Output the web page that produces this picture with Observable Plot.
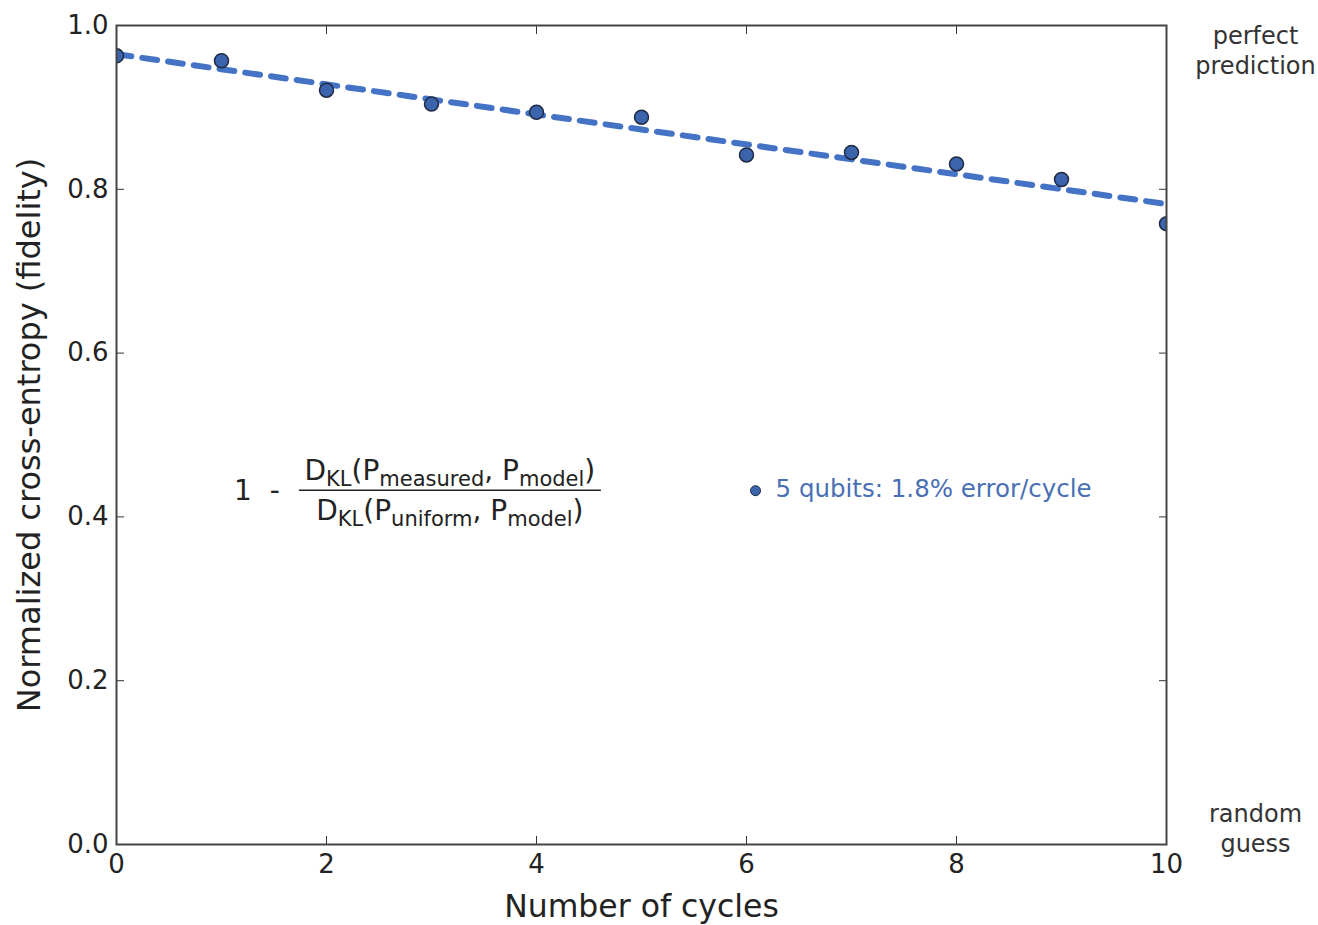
<!DOCTYPE html>
<html>
<head>
<meta charset="utf-8">
<script src="https://cdn.jsdelivr.net/npm/d3@7"></script>
<script src="https://cdn.jsdelivr.net/npm/@observablehq/plot@0.6"></script>
<style>
  html, body { margin: 0; padding: 0; background: #fff; }
  #chart svg { display: block; }
</style>
</head>
<body>
<div id="chart"></div>
<script>
// Data
const cycles = [0, 1, 2, 3, 4, 5, 6, 7, 8, 9, 10];
const fidelity = [0.963, 0.957, 0.921, 0.904, 0.894, 0.888, 0.842, 0.845, 0.831, 0.812, 0.758];
const fitCycles = [0, 5, 10];
const fitValues = [0.965, 0.873, 0.782];
const xTicks = [0, 2, 4, 6, 8, 10];
const yTicks = [0.0, 0.2, 0.4, 0.6, 0.8, 1.0];
const legendLabel = "5 qubits: 1.8% error/cycle";

const points = cycles.map((c, i) => ({c, f: fidelity[i]}));
const fit = fitCycles.map((c, i) => ({c, f: fitValues[i]}));

const font = "DejaVu Sans, Verdana, sans-serif";

const plot = Plot.plot({
  width: 1318,
  height: 925,
  marginLeft: 116,
  marginRight: 152,
  marginTop: 25,
  marginBottom: 81,
  style: {fontFamily: font, fontSize: "26px", color: "#222", background: "#fff"},
  x: {domain: [0, 10]},
  y: {domain: [0, 1]},
  marks: [
    // tick labels
    Plot.axisX(xTicks, {tickSize: 0, tickPadding: 10, tickFormat: d => d3.format("d")(d), fontSize: 26, label: null}),
    Plot.axisY(yTicks, {tickSize: 0, tickPadding: 8, tickFormat: d => d.toFixed(1), fontSize: 26, label: null}),
    // axis titles
    Plot.axisX([], {tickSize: 0, fontSize: 31.5, label: "Number of cycles", labelAnchor: "center", labelOffset: 72, labelArrow: "none"}),
    Plot.axisY([], {tickSize: 0, fontSize: 32, label: "Normalized cross-entropy (fidelity)", labelAnchor: "center", labelOffset: 99, labelArrow: "none", dy: -5}),
    // inward ticks on all sides
    Plot.axisX(xTicks, {anchor: "bottom", tickSize: -8, tickFormat: () => "", label: null, stroke: "#333"}),
    Plot.axisX(xTicks, {anchor: "top", tickSize: -8, tickFormat: () => "", label: null, stroke: "#333"}),
    Plot.axisY(yTicks, {anchor: "left", tickSize: -8, tickFormat: () => "", label: null, stroke: "#333"}),
    Plot.axisY(yTicks, {anchor: "right", tickSize: -8, tickFormat: () => "", label: null, stroke: "#333"}),
    Plot.line(fit, {x: "c", y: "f", stroke: "#4472c4", strokeWidth: 6, strokeDasharray: "15,11", clip: true}),
    Plot.dot(points, {x: "c", y: "f", r: 7, fill: "#3c64ac", stroke: "#1f2a44", strokeWidth: 1.5, clip: true}),
    Plot.frame({stroke: "#444", strokeWidth: 2}),
    // legend
    Plot.dot([{x: 6.086, y: 0.432}], {x: "x", y: "y", r: 5, fill: "#3c64ac", stroke: "#1f2a44", strokeWidth: 1}),
    Plot.text([legendLabel], {x: 6.086, y: 0.432, dx: 20, dy: -2, textAnchor: "start", fill: "#4a6fb5", fontSize: 24.5}),
    // right annotations
    Plot.text(["perfect\nprediction"], {x: 10, y: 1, dx: 89, dy: 24, fill: "#333", fontSize: 24, lineHeight: 1.25}),
    Plot.text(["random\nguess"], {x: 10, y: 0, dx: 89, dy: -17, fill: "#333", fontSize: 24, lineHeight: 1.25})
  ]
});

document.getElementById("chart").appendChild(plot);

// Formula annotation (real text with subscripts)
const sx = plot.scale("x"), sy = plot.scale("y");
const cx = sx.apply(3.18), cy = sy.apply(0.432);
const svg = d3.select(plot);
const g = svg.append("g").attr("font-family", font).attr("fill", "#222");
g.append("text").attr("x", cx - 193).attr("y", cy + 10).attr("font-size", 28).attr("xml:space", "preserve").text("1  -");
function frac(y, sub1, sub2) {
  const t = g.append("text").attr("x", cx).attr("y", y).attr("text-anchor", "middle").attr("font-size", 28);
  t.append("tspan").text("D");
  t.append("tspan").attr("font-size", 21).attr("dy", 6).text("KL");
  t.append("tspan").attr("dy", -6).text("(P");
  t.append("tspan").attr("font-size", 21).attr("dy", 6).text(sub1);
  t.append("tspan").attr("dy", -6).text(", P");
  t.append("tspan").attr("font-size", 21).attr("dy", 6).text(sub2);
  t.append("tspan").attr("dy", -6).text(")");
}
frac(cy - 10, "measured", "model");
frac(cy + 30, "uniform", "model");
g.append("line").attr("x1", cx - 151).attr("x2", cx + 151).attr("y1", cy).attr("y2", cy)
  .attr("stroke", "#222").attr("stroke-width", 1.5);
</script>
</body>
</html>
